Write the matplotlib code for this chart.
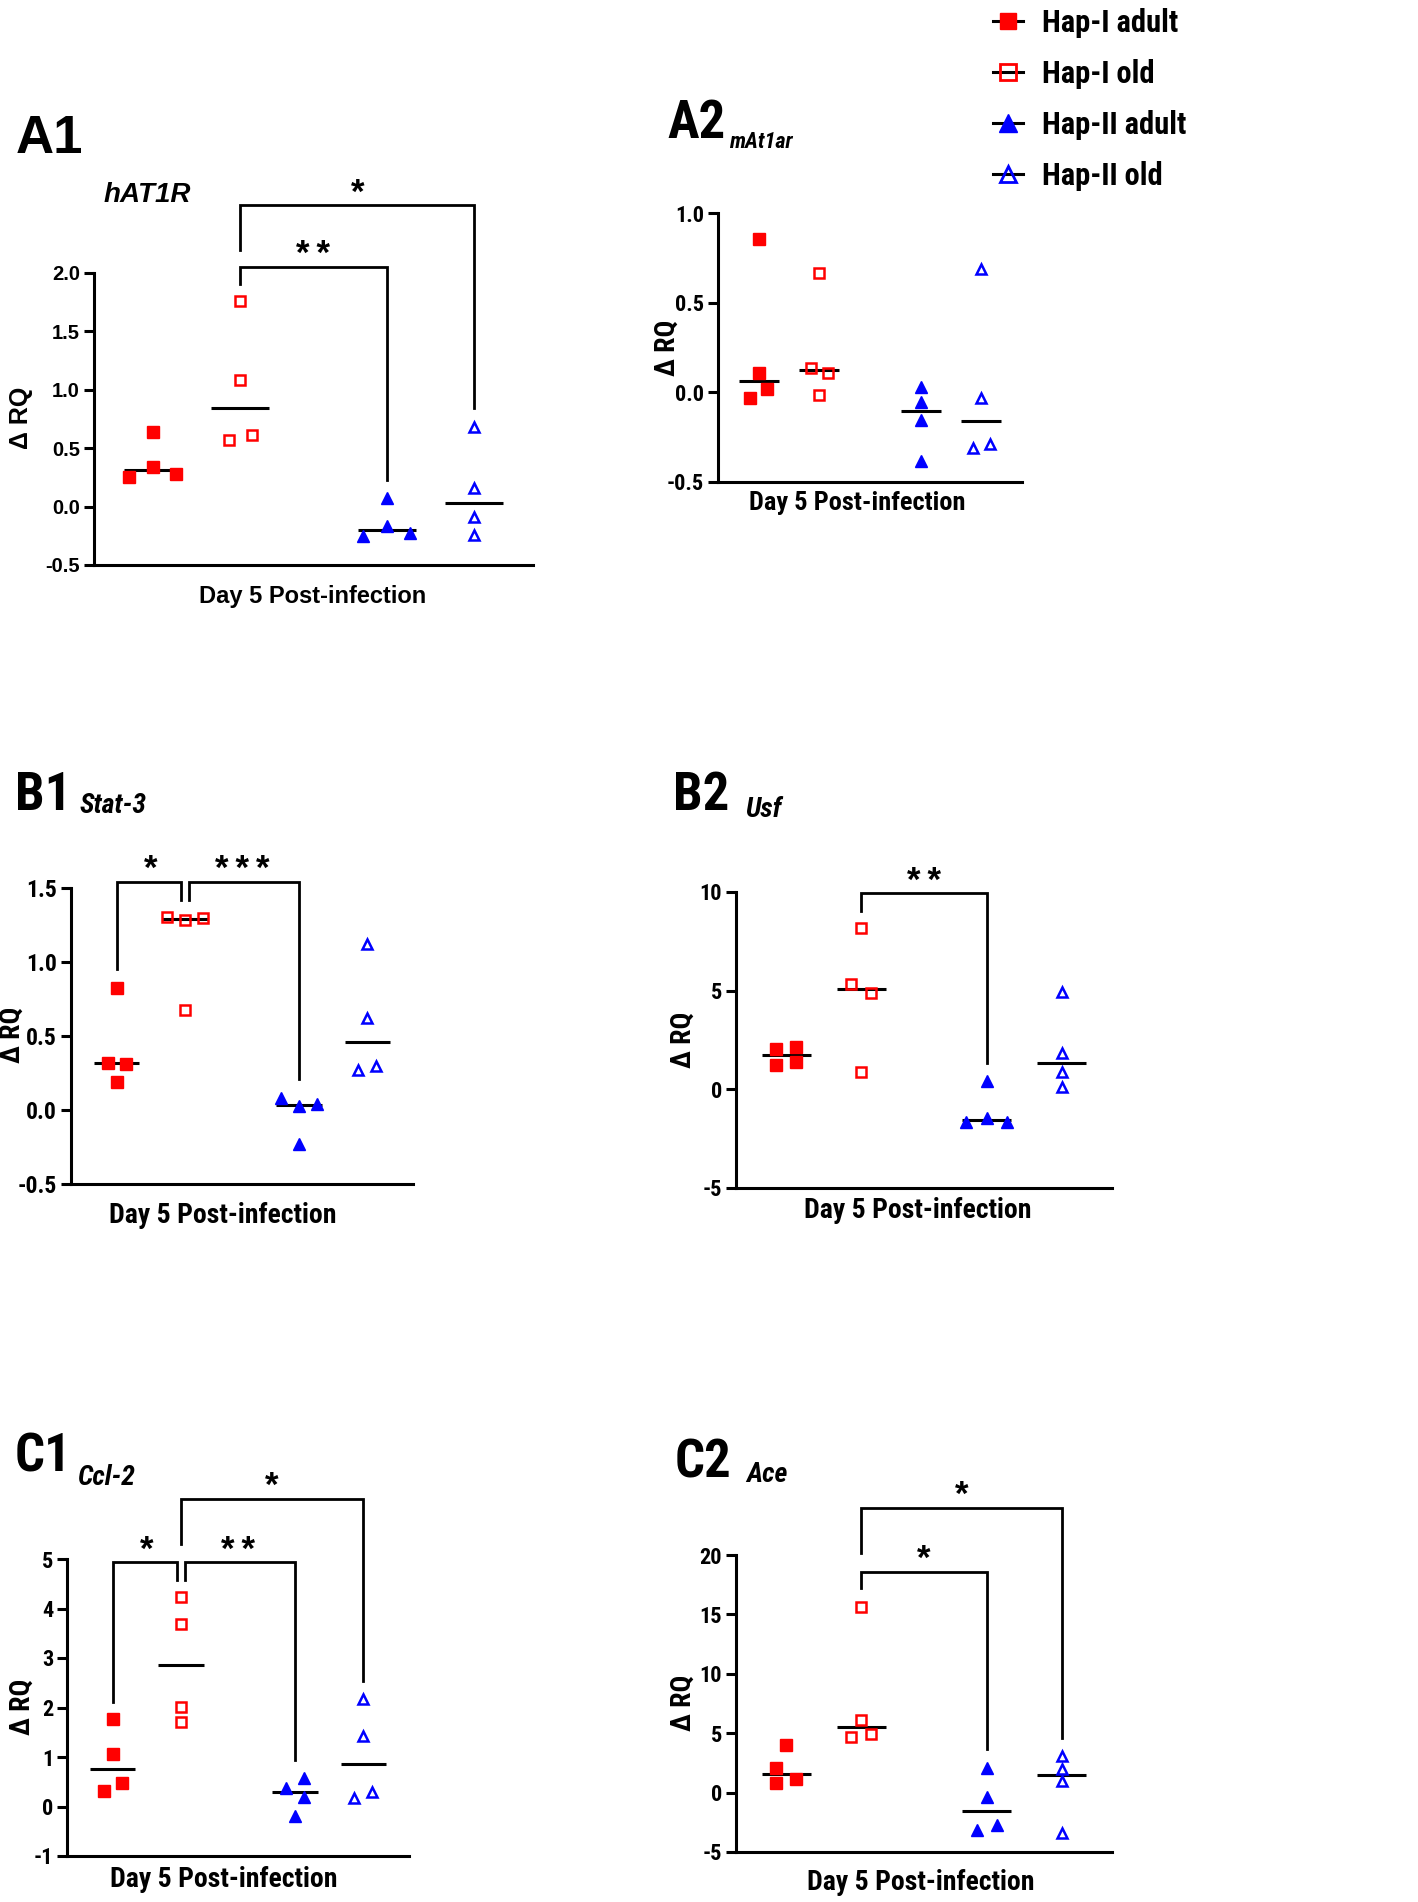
import numpy as np
import matplotlib
matplotlib.use("Agg")
import matplotlib.pyplot as plt
from matplotlib import font_manager
from matplotlib.font_manager import FontProperties
from matplotlib.lines import Line2D

W, H = 1418, 1902

plt.rcParams['font.family'] = ['Liberation Sans', 'DejaVu Sans']
plt.rcParams['axes.unicode_minus'] = False

# most panels were set in a narrow Arial; look for any condensed face that is installed
cond = [f for f in font_manager.fontManager.ttflist
        if f.stretch in ('condensed', 'semi-condensed', 'extra-condensed', 'ultra-condensed')
        or 'Narrow' in f.name or 'Condensed' in f.name]
narrow_name, narrow_stretch = None, 'normal'
for pref in ['Liberation', 'Arial', 'Roboto', 'Open Sans', 'Noto Sans', 'DejaVu']:
    hits = [f for f in cond if f.name.startswith(pref)]
    if hits:
        narrow_name, narrow_stretch = hits[0].name, hits[0].stretch
        break
if narrow_name is None and cond:
    narrow_name, narrow_stretch = cond[0].name, cond[0].stretch

if narrow_name:
    NARROW = dict(family=[narrow_name, 'DejaVu Sans'], stretch=narrow_stretch)
    nscale, lab_size = 1.0, 38
else:
    NARROW = dict(family=['Liberation Sans', 'DejaVu Sans'], stretch='normal')
    nscale, lab_size = 0.85, 33
REG = dict(family=['Liberation Sans', 'DejaVu Sans'], stretch='normal')


def fp(font, size, italic=False):
    return FontProperties(size=size, weight='bold', style='italic' if italic else 'normal', **font)


groups = ['Hap-I adult', 'Hap-I old', 'Hap-II adult', 'Hap-II old']
xpos = [1.0, 2.0, 3.67, 4.67]
colors = ['#ff0000', '#ff0000', '#0000ff', '#0000ff']
markers = ['s', 's', '^', '^']
filled = [True, False, True, False]

# delta RQ per animal
a1_vals = [[0.64, 0.34, 0.28, 0.25], [1.76, 1.08, 0.61, 0.57],
           [0.07, -0.17, -0.23, -0.25], [0.68, 0.16, -0.09, -0.24]]
a2_vals = [[0.855, 0.11, 0.02, -0.03], [0.665, 0.134, 0.11, -0.017],
           [0.03, -0.056, -0.156, -0.385], [0.69, -0.03, -0.29, -0.31]]
b1_vals = [[0.826, 0.32, 0.31, 0.19], [1.306, 1.284, 1.295, 0.676],
           [0.079, 0.029, 0.04, -0.23], [1.122, 0.624, 0.27, 0.297]]
b2_vals = [[2.03, 1.23, 2.13, 1.40], [8.16, 5.32, 4.87, 0.89],
           [0.44, -1.47, -1.65, -1.68], [4.95, 1.82, 0.89, 0.13]]
c1_vals = [[1.77, 1.06, 0.47, 0.32], [4.23, 3.68, 2.02, 1.71],
           [0.57, 0.37, 0.20, -0.19], [2.17, 1.43, 0.29, 0.17]]
c2_vals = [[4.02, 2.06, 0.80, 1.13], [15.65, 6.12, 4.67, 4.92],
           [2.06, -0.40, -2.71, -3.13], [3.10, 1.97, 0.99, -3.36]]

# horizontal scatter slot of each point (GraphPad style spreading)
a1_slots = [[0, 0, 2, -2], [0, 0, 1, -1], [0, 0, 2, -2], [0, 0, 0, 0]]
a2_slots = [[0, 0, 1, -1], [0, -1, 1, 0], [0, 0, 0, 0], [0, 0, 1, -1]]
b1_slots = [[0, -1, 1, 0], [-2, 0, 2, 0], [-2, 0, 2, 0], [0, 0, -1, 1]]
b2_slots = [[-1, -1, 1, 1], [0, -1, 1, 0], [0, 0, -2, 2], [0, 0, 0, 0]]
c1_slots = [[0, 0, 1, -1], [0, 0, 0, 0], [1, -1, 1, 0], [0, 0, 1, -1]]
c2_slots = [[0, -1, -1, 1], [0, 0, -1, 1], [0, 0, 1, -1], [0, 0, 0, 0]]

# significance brackets: group i, group j, stars, top, left leg end, right leg end, leg shifts
a1_sig = [(1, 2, '**', 2.05, 1.91, 0.23, 0, 0), (1, 3, '*', 2.58, 2.20, 0.84, 0, 0)]
a2_sig = []
b1_sig = [(0, 1, '*', 1.543, 0.95, 1.42, 0, -0.065), (1, 2, '***', 1.543, 1.42, 0.21, 0.065, 0)]
b2_sig = [(1, 2, '**', 9.93, 9.05, 1.35, 0, 0)]
c1_sig = [(0, 1, '*', 4.93, 2.12, 4.58, 0, -0.06), (1, 2, '**', 4.93, 4.58, 0.94, 0.06, 0),
          (1, 3, '*', 6.21, 5.30, 2.54, 0, 0)]
c2_sig = [(1, 2, '*', 18.6, 17.2, 3.66, 0, 0), (1, 3, '*', 23.98, 20.14, 4.58, 0, 0)]


def fx(x):
    return x / W


def fy(y):
    return 1 - y / H


def draw_panel(fig, l, r, t, b, ylim, yticks, fmt, vals, slots, sig, font, tsize, msize):
    ax = fig.add_axes([l / W, 1 - b / H, (r - l) / W, (b - t) / H])
    for k in range(4):
        x0 = xpos[k]
        v = np.array(vals[k])
        xs = x0 + 0.135 * np.array(slots[k])
        ax.hlines(np.median(v), x0 - 0.33, x0 + 0.33, color='black', lw=2.2, zorder=2)
        if filled[k]:
            ax.plot(xs, v, linestyle='none', marker=markers[k], ms=msize,
                    mfc=colors[k], mec=colors[k], mew=1, zorder=3, clip_on=False)
        else:
            ax.plot(xs, v, linestyle='none', marker=markers[k], ms=msize - 1.2,
                    mfc='none', mec=colors[k], mew=1.8, zorder=3, clip_on=False)
    for i, j, stars, top, yl, yr, si, sj in sig:
        xi = xpos[i] + si
        xj = xpos[j] + sj
        ax.plot([xi, xi, xj, xj], [yl, top, top, yr], color='black', lw=2.0,
                clip_on=False, solid_joinstyle='miter')
        ax.annotate('\u2009'.join(stars), ((xpos[i] + xpos[j]) / 2, top), xytext=(0, -3),
                    textcoords='offset points', ha='center', va='bottom',
                    fontproperties=fp(REG, 25), annotation_clip=False)
    ax.set_xlim(0.33, 5.34)
    ax.set_ylim(*ylim)
    ax.set_yticks(yticks)
    ax.set_yticklabels([fmt % t for t in yticks], fontproperties=fp(font, tsize))
    ax.set_xticks([])
    for s in ['top', 'right']:
        ax.spines[s].set_visible(False)
    for s in ['left', 'bottom']:
        ax.spines[s].set_linewidth(2.2)
    ax.tick_params(axis='y', direction='out', length=7, width=2.2, pad=3)
    ax.patch.set_alpha(0)
    return ax


def panel_text(fig, lab, lab_xy, lsize, font, gene, gene_xy, gsize, xl_xy, xlsize, yl_xy, ylsize):
    fig.text(fx(lab_xy[0]), fy(lab_xy[1]), lab, fontproperties=fp(font, lsize),
             va='baseline', ha='left')
    fig.text(fx(gene_xy[0]), fy(gene_xy[1]), gene, fontproperties=fp(font, gsize, True),
             va='baseline', ha='left')
    fig.text(fx(xl_xy[0]), fy(xl_xy[1]), 'Day 5 Post-infection', fontproperties=fp(font, xlsize),
             va='baseline', ha='center')
    fig.text(fx(yl_xy[0]), fy(yl_xy[1]), '\u0394 RQ', fontproperties=fp(font, ylsize),
             rotation=90, va='center', ha='center')


fig = plt.figure(figsize=(W / 100, H / 100), dpi=100)

# A1
draw_panel(fig, 94, 533, 273, 565, (-0.5, 2.0), [-0.5, 0.0, 0.5, 1.0, 1.5, 2.0], '%.1f',
           a1_vals, a1_slots, a1_sig, REG, 14.5, 8.5)
panel_text(fig, 'A1', (16, 153), 38, REG, 'hAT1R', (104, 202), 20, (313, 603), 17, (21, 418), 18)

# A2
draw_panel(fig, 718, 1022, 213, 482, (-0.5, 1.0), [-0.5, 0.0, 0.5, 1.0], '%.1f',
           a2_vals, a2_slots, a2_sig, NARROW, 16 * nscale, 8)
panel_text(fig, 'A2', (667, 138), lab_size, NARROW, 'mAt1ar', (729, 148), 16 * nscale,
           (857, 510), 19 * nscale, (667, 348), 20 * nscale)

# B1
draw_panel(fig, 71, 413, 888, 1184, (-0.5, 1.5), [-0.5, 0.0, 0.5, 1.0, 1.5], '%.1f',
           b1_vals, b1_slots, b1_sig, NARROW, 17 * nscale, 8)
panel_text(fig, 'B1', (15, 810), lab_size, NARROW, 'Stat-3', (80, 813), 20 * nscale,
           (223, 1223), 20 * nscale, (12, 1035), 20 * nscale)

# B2
draw_panel(fig, 736, 1112, 892, 1188, (-5, 10), [-5, 0, 5, 10], '%d',
           b2_vals, b2_slots, b2_sig, NARROW, 16 * nscale, 8)
panel_text(fig, 'B2', (673, 810), lab_size, NARROW, 'Usf', (745, 817), 20 * nscale,
           (918, 1218), 20 * nscale, (683, 1040), 20 * nscale)

# C1
draw_panel(fig, 67, 409, 1559, 1856, (-1, 5), [-1, 0, 1, 2, 3, 4, 5], '%d',
           c1_vals, c1_slots, c1_sig, NARROW, 16 * nscale, 8)
panel_text(fig, 'C1', (15, 1472), lab_size, NARROW, 'Ccl-2', (77, 1485), 20 * nscale,
           (224, 1887), 20 * nscale, (22, 1707), 20 * nscale)

# C2
draw_panel(fig, 736, 1112, 1555, 1852, (-5, 20), [-5, 0, 5, 10, 15, 20], '%d',
           c2_vals, c2_slots, c2_sig, NARROW, 16 * nscale, 8)
panel_text(fig, 'C2', (675, 1478), lab_size, NARROW, 'Ace', (746, 1482), 20 * nscale,
           (921, 1890), 20 * nscale, (683, 1703), 20 * nscale)

# legend in the top right corner
leg_rows = [21, 72, 123, 174]
for k in range(4):
    y = fy(leg_rows[k])
    fig.add_artist(Line2D([fx(993), fx(1023)], [y, y], color='black', lw=2.2))
    if filled[k]:
        fig.add_artist(Line2D([fx(1008)], [y], linestyle='none', marker=markers[k],
                              ms=13 if k == 2 else 12, mfc=colors[k], mec=colors[k], mew=1))
    else:
        fig.add_artist(Line2D([fx(1008)], [y], linestyle='none', marker=markers[k],
                              ms=12 if k == 3 else 11, mfc='none', mec=colors[k], mew=2))
    fig.text(fx(1042), fy(leg_rows[k] + 11), groups[k], fontproperties=fp(NARROW, 22 * nscale),
             va='baseline', ha='left')

fig.savefig('out.png', dpi=100)
